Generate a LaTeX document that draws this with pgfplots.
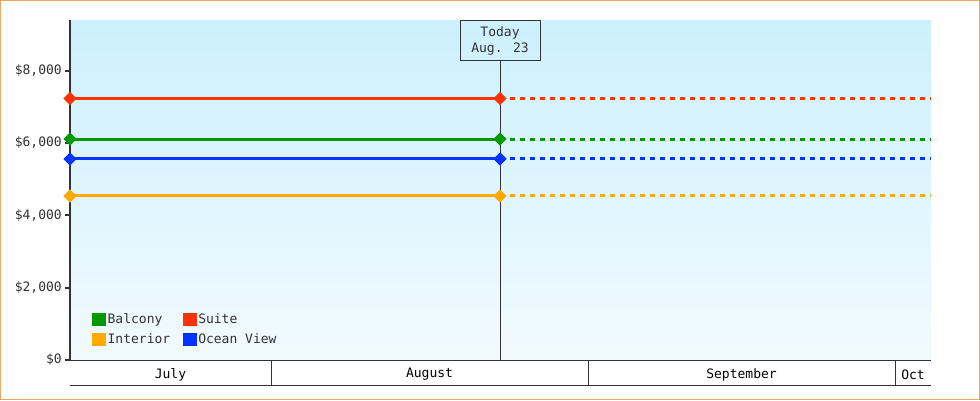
\documentclass[border=0pt]{standalone}
\usepackage{fontspec}
\setmainfont{DejaVu Sans Mono}
\usepackage{pgfplots}
\pgfplotsset{compat=1.18}

\definecolor{balcony}{HTML}{009900}
\definecolor{suite}{HTML}{FF3300}
\definecolor{interior}{HTML}{FFAA00}
\definecolor{ocean}{HTML}{0033FF}
\definecolor{axisgray}{HTML}{333333}
\definecolor{bgtop}{HTML}{CCF0FD}
\definecolor{bgbot}{HTML}{F2FAFF}
\definecolor{framecol}{HTML}{E8A862}

\pgfplotsset{
  solidline/.style={line width=3pt, mark=square*, mark size=3.2pt,
    mark options={rotate=45, solid}},
  futureline/.style={line width=3pt, dash pattern=on 5pt off 5pt, forget plot},
}

\begin{document}
\begin{tikzpicture}[font=\fontsize{13}{17}\selectfont]
\useasboundingbox (-70pt,-40pt) rectangle (910pt,360pt);
\fill[white] (-70pt,-40pt) rectangle (910pt,360pt);
\begin{axis}[
  at={(0pt,0pt)}, anchor=south west,
  scale only axis, width=861pt, height=340pt,
  xmin=-19.65, xmax=64.52, ymin=0, ymax=9400,
  clip=false,
  axis x line*=bottom, axis y line*=left,
  x axis line style={-, line width=1pt, color=axisgray},
  y axis line style={-, line width=2pt, color=axisgray},
  xtick=\empty,
  ytick={0,2000,4000,6000,8000},
  scaled y ticks=false,
  tick align=outside, major tick length=5pt,
  ytick style={line width=2pt, color=axisgray},
  yticklabel={\$\pgfmathprintnumber{\tick}},
  /pgf/number format/1000 sep={,},
  /pgf/number format/assume math mode=true,
  yticklabel style={text=axisgray, inner sep=3pt},
  axis background/.style={top color=bgtop, bottom color=bgbot},
  legend columns=2,
  legend cell align=left,
  legend style={at={(0.022,0.032)}, anchor=south west, draw=none, fill=none,
    row sep=6pt,
    /tikz/every even column/.append style={column sep=11pt},
    nodes={inner sep=1.5pt, text=axisgray}},
  legend image code/.code={\fill[#1] (0pt,-5pt) rectangle (11pt,5pt);},
]
% today marker
\node[draw=axisgray, line width=1pt, minimum width=80pt, minimum height=40pt,
  anchor=north, align=center, inner sep=0pt, text=axisgray] (today)
  at (axis cs:22.39,9400) {\raisebox{-2pt}{Today}\\[1pt]Aug. 23};
\draw[axisgray, line width=1pt] (today.south) -- (axis cs:22.39,0);

\addplot[balcony, solidline] coordinates {(-19.65,6110) (22.39,6110)};
\addlegendentry{Balcony}
\addplot[suite, solidline] coordinates {(-19.65,7230) (22.39,7230)};
\addlegendentry{Suite}
\addplot[interior, solidline] coordinates {(-19.65,4535) (22.39,4535)};
\addlegendentry{Interior}
\addplot[ocean, solidline] coordinates {(-19.65,5560) (22.39,5560)};
\addlegendentry{Ocean View}

\addplot[balcony, futureline] coordinates {(22.39,6110) (64.52,6110)};
\addplot[suite, futureline] coordinates {(22.39,7230) (64.52,7230)};
\addplot[interior, futureline] coordinates {(22.39,4535) (64.52,4535)};
\addplot[ocean, futureline] coordinates {(22.39,5560) (64.52,5560)};

% month band
\draw[axisgray, line width=1pt] ([yshift=-25pt]axis cs:-19.65,0) -- ([yshift=-25pt]axis cs:64.52,0);
\draw[axisgray, line width=1pt] (axis cs:0,0) -- ([yshift=-25pt]axis cs:0,0);
\draw[axisgray, line width=1pt] (axis cs:31,0) -- ([yshift=-25pt]axis cs:31,0);
\draw[axisgray, line width=1pt] (axis cs:61,0) -- ([yshift=-25pt]axis cs:61,0);
\node[text=black] at ([yshift=-14.5pt]axis cs:-9.83,0) {July};
\node[text=black] at ([yshift=-14.5pt]axis cs:15.5,0) {August};
\node[text=black] at ([yshift=-14.5pt]axis cs:46,0) {September};
\node[text=black] at ([yshift=-14.5pt]axis cs:62.76,0) {Oct};
\end{axis}
\draw[framecol, line width=1pt] (-69.5pt,-39.5pt) rectangle (909.5pt,359.5pt);
\end{tikzpicture}
\end{document}
